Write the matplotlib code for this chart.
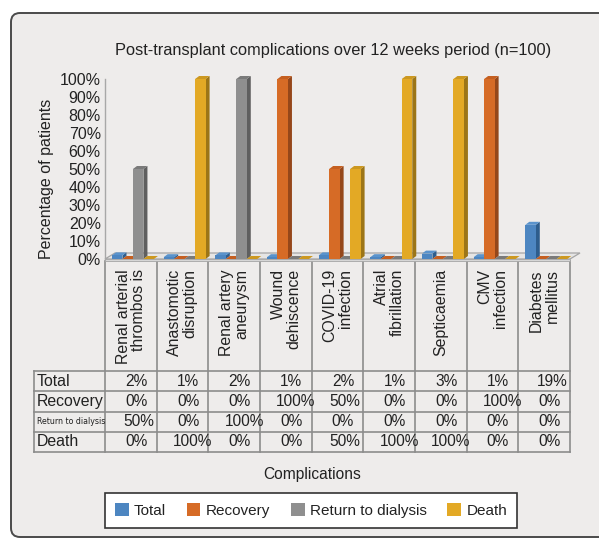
import matplotlib
matplotlib.use("Agg")
import matplotlib.pyplot as plt
from matplotlib.patches import Polygon, FancyBboxPatch, Patch
from matplotlib.lines import Line2D
from matplotlib.transforms import Affine2D
from matplotlib import font_manager

# ---------------- data ----------------
categories = ["Renal arterial\nthrombos is", "Anastomotic\ndisruption", "Renal artery\naneurysm",
              "Wound\ndehiscence", "COVID-19\ninfection", "Atrial\nfibrillation",
              "Septicaemia", "CMV\ninfection", "Diabetes\nmellitus"]
series_names = ["Total", "Recovery", "Return to dialysis", "Death"]
total = [2, 1, 2, 1, 2, 1, 3, 1, 19]
recovery = [0, 0, 0, 100, 50, 0, 0, 100, 0]
dialysis = [50, 0, 100, 0, 0, 0, 0, 0, 0]
death = [0, 100, 0, 0, 50, 100, 100, 0, 0]
yticks = [0, 10, 20, 30, 40, 50, 60, 70, 80, 90, 100]
title = "Post-transplant complications over 12 weeks period (n=100)"
ylabel = "Percentage of patients"
xlabel = "Complications"

series = [total, recovery, dialysis, death]
front_c = ["#4d86c1", "#d66b26", "#8f8f8f", "#e3a925"]
side_c = ["#2e5d8c", "#95471a", "#5f5f5f", "#9c7517"]
top_c = ["#5a93cc", "#c55f20", "#7a7a7a", "#cc9820"]

plt.rcParams['font.family'] = ['Liberation Sans', 'DejaVu Sans']
W, H = 599, 538
fig = plt.figure(figsize=(W / 100, H / 100), dpi=100, facecolor="white")
PX = Affine2D().scale(1 / 100, -1 / 100).translate(0, H / 100) + fig.dpi_scale_trans

# background panel
panel = FancyBboxPatch((11, 13), 640, 524, boxstyle="round,pad=0,rounding_size=9",
                       transform=PX, facecolor="#eeeceb", edgecolor="#4a4a4a", lw=1.4,
                       zorder=-10)
fig.patches.append(panel)

# axes geometry in pixels
AX_L, AX_R, AX_B, AX_T = 105, 570, 259, 79
ax = fig.add_axes([AX_L / W, 1 - AX_B / H, (AX_R - AX_L) / W, (AX_B - AX_T) / H])
ax.set_zorder(2)
ax.set_xlim(0, len(categories))
ax.set_ylim(0, 100)
ax.patch.set_visible(False)
for s in ["top", "right", "bottom"]:
    ax.spines[s].set_visible(False)
ax.spines["left"].set_color("#a8a8a8")
ax.spines["left"].set_linewidth(1.0)
ax.set_xticks([])
ax.set_yticks(yticks)
ax.set_yticklabels([f"{t}%" for t in yticks], fontsize=11.5, color="#222222")
ax.tick_params(axis="y", length=0, pad=3)

# pixel -> data conversion
px_x = len(categories) / (AX_R - AX_L)
px_y = 100 / (AX_B - AX_T)

# floor
fdx, fdy = 10 * px_x, 6 * px_y
ncat = len(categories)
floor = Polygon([(0, 0), (ncat, 0), (ncat + fdx, fdy), (fdx, fdy)], closed=True,
                facecolor="#e6e5e4", edgecolor="#a5a5a5", lw=0.9, clip_on=False, zorder=1)
ax.add_patch(floor)
floor_front = Polygon([(0, 0), (ncat, 0), (ncat, -2 * px_y), (0, -2 * px_y)], closed=True,
                      facecolor="#d6d6d6", edgecolor="#a5a5a5", lw=0.6, clip_on=False, zorder=1)
ax.add_patch(floor_front)

# 3D-like bars
bw = 0.203
start = 0.135
bdx, bdy = 4 * px_x, 3 * px_y
z = 2
for ci in range(ncat):
    for si, vals in enumerate(series):
        x0 = ci + start + si * bw
        h = vals[ci]
        side = Polygon([(x0 + bw, 0), (x0 + bw, h), (x0 + bw + bdx, h + bdy), (x0 + bw + bdx, bdy)],
                       closed=True, facecolor=side_c[si], edgecolor="none", clip_on=False, zorder=z)
        ax.add_patch(side)
        top = Polygon([(x0, h), (x0 + bw, h), (x0 + bw + bdx, h + bdy), (x0 + bdx, h + bdy)],
                      closed=True, facecolor=top_c[si], edgecolor="none", clip_on=False, zorder=z)
        ax.add_patch(top)
        ax.bar(x0, h, width=bw, align="edge", color=front_c[si], edgecolor="none",
               zorder=z + 0.5, clip_on=False)
        z += 1

# title and axis labels
fig.text(333, 51, title, transform=PX, ha="center", va="center", fontsize=11.8, color="#222222")
fig.text(47, 179, ylabel, transform=PX, ha="center", va="center", rotation=90,
         fontsize=11.5, color="#222222")
fig.text(312, 475, xlabel, transform=PX, ha="center", va="center", fontsize=11.2, color="#222222")

# table
grid_c = "#8c8c8c"
col_w = (AX_R - AX_L) / ncat
cols = [AX_L + i * col_w for i in range(ncat + 1)]
rows_y = [371, 391, 411.5, 431.5, 452]
TAB_L = 34
for y in rows_y:
    fig.add_artist(Line2D([TAB_L, AX_R], [y, y], transform=PX, color=grid_c, lw=1.2))
fig.add_artist(Line2D([TAB_L, TAB_L], [rows_y[0], rows_y[-1]], transform=PX, color=grid_c, lw=1.2))
for x in cols:
    fig.add_artist(Line2D([x, x], [261, rows_y[-1]], transform=PX, color=grid_c, lw=1.2))

# category labels
for ci, name in enumerate(categories):
    cx = cols[ci] + col_w / 2
    fig.text(cx, 269, name, transform=PX, rotation=90, ha="center", va="top",
             multialignment="right", fontsize=11.4, color="#222222", linespacing=1.05)

# row labels and values
names = {f.name for f in font_manager.fontManager.ttflist}
for ri, (sname, vals) in enumerate(zip(series_names, series)):
    ry = (rows_y[ri] + rows_y[ri + 1]) / 2
    if sname == "Return to dialysis":
        if "Liberation Sans Narrow" in names:
            fig.text(37, ry, sname, transform=PX, ha="left", va="center", fontsize=7.4,
                     family=["Liberation Sans Narrow", "DejaVu Sans"], color="#222222")
        else:
            fig.text(37, ry, sname, transform=PX, ha="left", va="center", fontsize=6.3,
                     family=["DejaVu Sans"], fontstretch="condensed", color="#222222")
    else:
        fig.text(37, ry, sname, transform=PX, ha="left", va="center", fontsize=11.4,
                 color="#222222")
    for ci, v in enumerate(vals):
        s = f"{v}%"
        cx = cols[ci] + col_w / 2 + 1 + 2.25 * len(s)
        fig.text(cx, ry, s, transform=PX, ha="center", va="center", fontsize=11.2,
                 color="#222222")

# legend
handles = [Patch(facecolor=c, edgecolor="none") for c in front_c]
leg = fig.legend(handles, series_names, loc="center", bbox_to_anchor=(311 / W, 1 - 510.5 / H),
                 ncol=4, frameon=True, fancybox=False, edgecolor="#333333", framealpha=1,
                 fontsize=11, handlelength=0.9, handleheight=0.9, handletextpad=0.35,
                 columnspacing=1.35, borderpad=0.65)
leg.get_frame().set_linewidth(1.2)
for t in leg.get_texts():
    t.set_color("#222222")

fig.savefig("out.png", dpi=100, facecolor="white")
